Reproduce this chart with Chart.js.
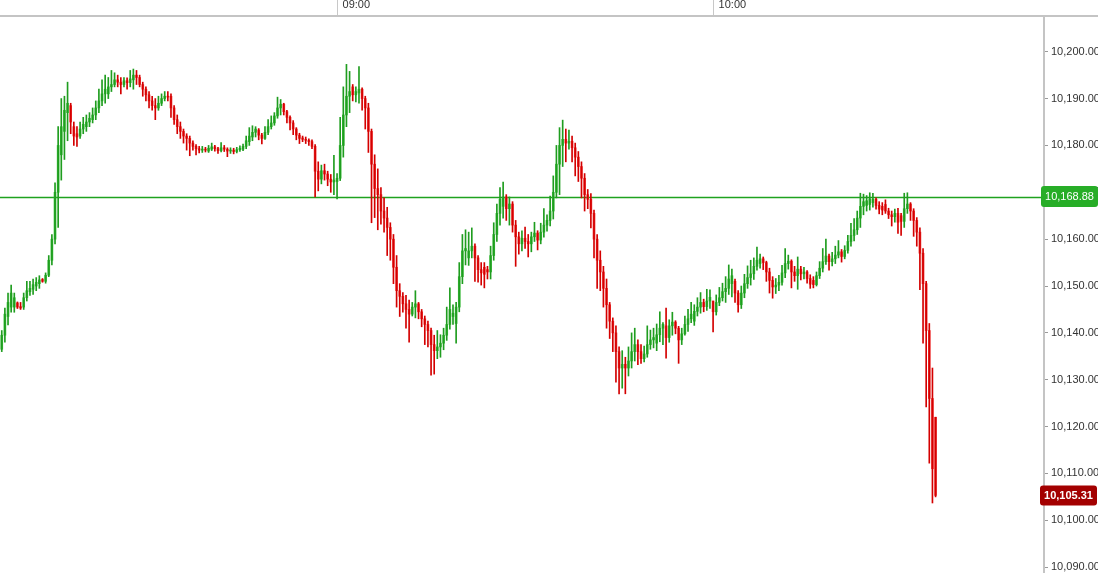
<!DOCTYPE html>
<html>
<head>
<meta charset="utf-8">
<title>Index 30s bars</title>
<script src="https://cdn.jsdelivr.net/npm/chart.js@4/dist/chart.umd.min.js"></script>
<style>
  html, body { margin: 0; padding: 0; background: #fff; }
  #wrap { width: 1098px; height: 573px; }
</style>
</head>
<body>
<div id="wrap"><canvas id="chart" width="1098" height="573"></canvas></div>
<script>
// 30 second bars, first one at 08:06:30 (minutes after midnight)
var startMinute = 486.5;
var barMinutes = 0.5;

var opens = [
  10136.5,10139.5,10143.5,10145.5,10145.5,10146.4,10145.6,10145.5,10147.5,10148.8,
  10149.3,10150.0,10150.5,10151.4,10151.0,10152.3,10155.5,10160.0,10170.0,10178.0,
  10183.0,10187.0,10188.5,10184.0,10182.5,10182.0,10183.5,10184.0,10185.0,10185.5,
  10186.5,10188.0,10189.5,10191.0,10191.0,10192.5,10193.0,10194.0,10193.5,10193.0,
  10193.8,10193.4,10194.0,10195.0,10194.5,10193.0,10192.0,10190.8,10189.5,10188.5,
  10188.0,10189.0,10190.0,10190.5,10190.5,10188.0,10185.5,10184.0,10183.0,10182.0,
  10181.5,10180.5,10179.8,10179.3,10179.0,10179.2,10178.8,10179.2,10179.7,10179.3,
  10178.9,10179.5,10179.2,10178.8,10179.0,10178.7,10179.1,10179.2,10179.8,10180.8,
  10181.8,10182.8,10183.3,10182.2,10181.5,10182.8,10184.0,10184.8,10186.3,10188.0,
  10188.8,10187.2,10186.0,10184.8,10183.5,10182.2,10181.6,10181.3,10181.1,10180.8,
  10179.8,10174.5,10172.8,10174.6,10173.9,10172.8,10172.2,10172.3,10173.0,10180.0,
  10186.5,10190.5,10192.5,10190.8,10191.2,10192.0,10190.0,10188.0,10183.0,10176.0,
  10170.8,10169.5,10166.0,10164.5,10162.5,10160.0,10154.0,10149.0,10147.8,10146.2,
  10145.0,10144.0,10145.5,10146.2,10144.5,10143.0,10141.8,10140.5,10137.5,10136.2,
  10137.0,10137.8,10139.5,10141.8,10143.5,10142.0,10145.5,10152.0,10157.5,10156.0,
  10157.5,10158.5,10156.0,10153.5,10154.0,10153.5,10153.0,10156.5,10161.0,10165.5,
  10167.0,10169.0,10166.5,10167.5,10163.0,10160.5,10159.0,10160.2,10159.5,10159.0,
  10160.5,10161.3,10159.8,10161.5,10163.0,10164.0,10166.0,10170.0,10176.0,10180.0,
  10181.3,10180.5,10180.9,10179.5,10177.5,10175.5,10173.0,10169.5,10168.5,10165.5,
  10160.0,10155.5,10153.0,10149.5,10146.0,10142.5,10140.0,10136.0,10132.5,10133.3,
  10132.5,10134.0,10136.0,10137.5,10136.0,10134.5,10135.5,10137.5,10138.5,10137.8,
  10139.6,10141.0,10141.5,10139.0,10141.5,10142.3,10141.0,10138.5,10139.8,10141.8,
  10143.0,10142.5,10144.6,10145.5,10146.5,10145.6,10146.8,10146.8,10144.5,10146.5,
  10147.5,10148.8,10149.5,10150.5,10151.0,10148.5,10146.0,10148.5,10150.5,10151.8,
  10152.6,10154.2,10154.8,10155.8,10155.0,10153.0,10151.2,10149.8,10150.2,10150.8,
  10152.8,10154.8,10155.3,10153.0,10152.2,10153.6,10152.6,10153.0,10151.6,10151.2,
  10150.3,10152.2,10153.8,10155.2,10156.4,10155.2,10155.8,10156.6,10157.3,10156.3,
  10157.6,10159.5,10160.8,10162.0,10164.5,10167.0,10167.2,10167.4,10167.8,10168.5,
  10167.2,10167.0,10167.4,10166.0,10165.2,10164.8,10165.5,10165.0,10163.8,10166.5,
  10167.5,10166.0,10164.0,10161.5,10157.0,10150.5,10140.5,10126.0,10122.0
];

var highs = [
  10140.5,10145.3,10148.5,10150.2,10148.5,10146.6,10146.5,10148.5,10151.0,10151.0,
  10151.5,10151.8,10152.2,10151.6,10152.8,10156.5,10161.0,10172.0,10184.0,10190.0,
  10190.5,10193.5,10189.0,10185.0,10184.0,10185.0,10186.0,10186.5,10187.0,10188.0,
  10189.5,10192.0,10194.0,10195.0,10194.5,10196.0,10195.5,10195.0,10194.5,10194.5,
  10194.4,10196.0,10196.3,10196.0,10195.0,10193.5,10192.5,10191.5,10190.5,10190.0,
  10190.5,10191.0,10191.5,10191.5,10191.0,10188.5,10186.5,10185.0,10183.5,10182.5,
  10182.0,10181.0,10180.2,10179.8,10179.8,10179.6,10180.0,10180.5,10180.0,10179.6,
  10180.6,10180.0,10179.5,10179.5,10179.4,10179.6,10179.9,10180.3,10182.0,10183.8,
  10184.2,10184.0,10183.6,10182.6,10184.0,10185.5,10186.3,10187.0,10190.3,10189.8,
  10189.0,10187.5,10186.3,10185.3,10183.8,10182.6,10182.0,10181.8,10181.4,10181.2,
  10180.2,10176.5,10175.8,10176.0,10174.5,10173.8,10177.9,10174.0,10186.0,10192.5,
  10197.3,10195.8,10193.0,10192.5,10196.8,10192.3,10190.5,10189.0,10183.5,10178.0,
  10175.0,10171.0,10168.8,10166.8,10163.5,10161.0,10156.5,10150.5,10148.6,10148.0,
  10147.0,10146.5,10149.0,10146.5,10145.0,10143.6,10142.5,10141.0,10139.5,10140.5,
  10139.6,10141.0,10145.5,10149.6,10146.0,10146.5,10155.0,10161.0,10162.0,10161.5,
  10162.4,10159.0,10156.5,10155.0,10155.0,10154.2,10158.5,10163.5,10167.5,10171.0,
  10172.2,10169.5,10169.0,10168.0,10164.0,10161.5,10161.8,10162.6,10161.0,10161.5,
  10163.6,10161.8,10163.4,10166.5,10165.2,10169.2,10173.5,10180.0,10183.8,10185.4,
  10183.5,10183.3,10182.0,10180.5,10178.7,10176.5,10174.0,10170.6,10169.7,10166.2,
  10161.0,10157.5,10154.2,10151.5,10146.5,10143.2,10141.5,10137.0,10136.2,10134.8,
  10137.0,10140.0,10141.0,10138.5,10137.5,10137.2,10141.5,10140.6,10141.0,10141.9,
  10144.5,10142.2,10145.3,10142.8,10144.4,10142.6,10141.4,10141.0,10143.6,10145.0,
  10146.5,10146.0,10147.5,10148.6,10147.2,10149.3,10149.2,10146.8,10148.1,10149.7,
  10150.6,10152.0,10154.5,10153.6,10151.5,10149.0,10150.0,10152.5,10154.3,10155.5,
  10156.0,10158.3,10156.8,10156.2,10155.3,10153.8,10152.0,10151.6,10152.3,10154.4,
  10158.0,10156.6,10155.6,10154.2,10156.2,10154.2,10154.0,10153.3,10152.4,10152.0,
  10153.0,10155.2,10158.0,10160.0,10156.8,10157.2,10158.5,10159.7,10157.8,10158.6,
  10160.8,10163.4,10164.4,10166.0,10169.8,10169.6,10169.3,10169.9,10169.8,10168.8,
  10168.0,10167.8,10168.4,10166.6,10166.0,10166.4,10166.6,10165.5,10169.8,10169.9,
  10167.8,10166.5,10164.6,10162.4,10158.0,10151.0,10142.0,10132.5,10122.0
];

var lows = [
  10136.0,10138.0,10141.7,10144.4,10144.4,10145.2,10145.0,10145.0,10146.8,10148.0,
  10148.2,10149.0,10149.5,10150.8,10150.6,10152.0,10154.5,10159.0,10162.5,10172.6,
  10177.0,10181.0,10182.5,10180.0,10179.8,10181.5,10182.5,10183.0,10184.0,10184.8,
  10185.5,10187.0,10188.5,10189.0,10190.0,10191.5,10192.5,10192.5,10191.0,10192.5,
  10192.0,10192.5,10192.0,10193.0,10192.5,10190.5,10189.5,10188.0,10187.5,10185.5,
  10187.5,10188.5,10189.5,10189.5,10186.0,10184.5,10182.5,10181.5,10180.5,10179.0,
  10177.8,10179.0,10178.0,10178.4,10178.5,10178.6,10178.5,10178.9,10178.8,10178.3,
  10178.6,10178.7,10177.6,10178.3,10178.2,10178.4,10178.7,10178.9,10179.3,10180.0,
  10181.0,10181.8,10181.2,10180.3,10181.3,10182.3,10183.5,10184.3,10185.8,10186.5,
  10186.5,10184.8,10183.3,10182.3,10181.2,10180.4,10180.8,10180.4,10180.0,10179.3,
  10169.0,10170.3,10171.8,10172.6,10171.4,10170.0,10169.5,10168.6,10172.5,10177.5,
  10184.0,10187.0,10189.5,10189.3,10189.0,10187.5,10183.5,10178.5,10163.5,10164.6,
  10162.0,10163.2,10161.5,10156.5,10155.5,10150.5,10145.5,10143.5,10144.4,10141.0,
  10138.0,10143.6,10143.2,10143.0,10141.3,10137.5,10137.0,10131.0,10131.2,10134.5,
  10134.8,10136.4,10138.4,10140.8,10141.8,10137.8,10144.5,10150.5,10154.5,10154.4,
  10156.0,10151.0,10150.8,10150.2,10149.6,10151.5,10151.5,10155.5,10159.5,10163.0,
  10164.5,10164.0,10163.0,10161.5,10154.2,10156.8,10157.5,10158.0,10156.2,10157.3,
  10159.5,10157.7,10159.0,10160.4,10161.7,10162.8,10164.3,10168.8,10169.5,10175.5,
  10176.5,10179.2,10176.5,10173.5,10172.3,10168.8,10166.0,10166.5,10162.4,10156.0,
  10149.5,10149.0,10145.5,10141.0,10138.8,10136.0,10129.5,10127.0,10128.2,10127.0,
  10130.8,10132.5,10134.0,10133.2,10133.5,10133.8,10134.8,10136.5,10136.8,10136.2,
  10138.1,10137.5,10134.6,10138.0,10139.5,10139.8,10133.5,10137.5,10139.5,10140.3,
  10142.2,10141.6,10143.6,10144.2,10144.5,10144.8,10145.2,10140.2,10143.8,10145.8,
  10146.8,10146.5,10148.2,10147.7,10146.5,10144.4,10145.2,10147.5,10149.5,10150.2,
  10151.4,10153.4,10153.8,10153.5,10151.0,10148.5,10147.4,10148.4,10149.0,10150.2,
  10151.8,10153.6,10149.6,10151.0,10149.3,10151.3,10151.5,10150.6,10149.5,10149.6,
  10150.0,10151.6,10153.0,10154.6,10153.4,10154.3,10154.8,10156.0,10155.1,10155.8,
  10157.0,10158.5,10159.6,10161.0,10162.5,10165.2,10166.0,10166.2,10166.8,10166.4,
  10165.4,10165.2,10165.5,10164.4,10162.8,10163.6,10161.2,10160.8,10162.5,10165.5,
  10164.0,10160.6,10158.5,10149.2,10137.8,10124.2,10112.2,10103.7,10105.0
];

var closes = [
  10139.5,10144.0,10146.5,10148.5,10147.5,10145.5,10145.3,10147.5,10149.0,10149.5,
  10150.3,10150.8,10151.3,10151.0,10152.3,10155.5,10160.0,10170.0,10180.0,10184.0,
  10187.5,10189.0,10185.0,10182.0,10181.8,10183.5,10184.5,10185.0,10185.8,10186.5,
  10188.0,10189.5,10191.0,10192.0,10192.5,10193.0,10194.0,10193.5,10193.0,10193.8,
  10193.4,10194.2,10195.0,10194.5,10193.0,10192.0,10190.8,10189.5,10188.5,10188.0,
  10189.0,10190.0,10190.5,10190.3,10188.0,10185.5,10184.0,10183.0,10182.0,10181.5,
  10180.5,10179.8,10179.3,10179.0,10179.2,10179.0,10179.4,10179.7,10179.3,10178.9,
  10179.5,10179.2,10178.8,10179.0,10178.7,10179.1,10179.4,10179.8,10181.0,10182.0,
  10182.8,10183.5,10182.2,10181.5,10182.8,10184.0,10184.8,10186.3,10188.0,10188.8,
  10187.2,10186.0,10184.8,10183.5,10182.2,10181.5,10181.3,10181.1,10180.8,10179.8,
  10174.5,10172.8,10174.6,10173.9,10172.8,10172.2,10172.6,10173.0,10180.0,10186.5,
  10190.5,10191.5,10190.8,10191.5,10192.0,10190.0,10188.0,10183.0,10176.0,10170.8,
  10169.5,10166.0,10164.5,10162.5,10160.0,10154.0,10149.0,10147.8,10146.2,10145.0,
  10144.0,10145.5,10146.2,10144.5,10143.0,10141.8,10140.5,10137.5,10136.2,10137.0,
  10137.8,10139.5,10141.8,10145.0,10144.2,10145.5,10152.0,10157.5,10158.0,10157.5,
  10158.5,10156.0,10153.5,10152.8,10152.5,10153.0,10156.5,10161.0,10165.5,10168.5,
  10169.0,10166.5,10167.5,10163.0,10160.5,10159.0,10160.2,10159.5,10159.0,10160.5,
  10161.3,10159.8,10161.5,10163.0,10164.0,10166.0,10170.0,10176.0,10180.0,10181.3,
  10180.5,10180.9,10179.5,10177.5,10175.5,10173.0,10169.5,10168.5,10165.5,10160.0,
  10155.5,10153.0,10149.5,10146.0,10142.5,10140.0,10136.0,10132.5,10133.3,10132.5,
  10134.0,10136.0,10137.5,10136.0,10134.5,10135.5,10137.5,10138.5,10139.0,10139.6,
  10141.0,10141.8,10139.0,10141.5,10142.3,10141.0,10138.5,10139.8,10141.8,10143.0,
  10144.0,10144.6,10145.5,10146.5,10145.6,10146.8,10147.6,10144.5,10146.5,10147.5,
  10148.8,10149.5,10151.5,10152.2,10148.5,10146.0,10148.5,10150.5,10151.8,10152.6,
  10154.2,10155.5,10155.8,10155.0,10153.0,10151.2,10149.8,10150.2,10150.8,10152.8,
  10154.8,10155.3,10153.0,10152.2,10153.6,10152.6,10153.0,10151.6,10150.4,10150.3,
  10152.2,10153.8,10155.2,10156.4,10155.2,10155.8,10156.6,10157.3,10156.3,10157.6,
  10159.5,10160.8,10162.0,10164.5,10167.0,10168.0,10168.2,10168.6,10168.5,10167.2,
  10166.4,10166.2,10166.0,10165.2,10164.8,10165.5,10163.6,10163.8,10166.5,10167.5,
  10166.0,10164.0,10161.5,10157.0,10150.5,10140.5,10126.0,10111.0,10105.31
];

// reference level and last traded price shown on the price axis
var refPrice = 10168.88;
var lastPrice = closes[closes.length - 1];

// axis ranges and ticks
var timeMin = 486.22;
var timeMax = 652.8;
var timeTicks = [540, 600];
var priceMin = 10088.76;
var priceMax = 10207.62;
var priceStep = 10;

var times = opens.map(function(o, i){ return startMinute + i * barMinutes; });

var upBody = "#3cbc3c", upWick = "#1f9d1f";
var downBody = "#f23a3a", downWick = "#d40000";
var refColor = "#1fa21f";

function isUp(i){ return closes[i] >= opens[i]; }

function fmtPrice(v){
  return v.toLocaleString("en-US", {minimumFractionDigits: 2, maximumFractionDigits: 2});
}

function fmtTime(m){
  var h = Math.floor(m / 60), mm = Math.round(m % 60);
  return (h < 10 ? "0" : "") + h + ":" + (mm < 10 ? "0" : "") + mm;
}

//draws the rounded price tags on the right axis
function drawTag(ctx, x, yMid, w, h, fill, text, bold){
  ctx.fillStyle = fill;
  ctx.beginPath();
  if (ctx.roundRect) ctx.roundRect(x, yMid - h / 2, w, h, 3);
  else ctx.rect(x, yMid - h / 2, w, h);
  ctx.fill();
  ctx.fillStyle = "#ffffff";
  ctx.font = (bold ? "bold " : "") + "11px 'Liberation Sans', Arial, sans-serif";
  ctx.textAlign = "center";
  ctx.textBaseline = "middle";
  ctx.fillText(text, x + w / 2, yMid + 0.5);
}

var decorations = {
  id: "decorations",
  afterDraw: function(chart){
    var ctx = chart.ctx, area = chart.chartArea, y = chart.scales.y;
    ctx.save();
    //top rule runs on over the price column
    ctx.strokeStyle = "#c4c4c4";
    ctx.lineWidth = 2;
    ctx.beginPath();
    ctx.moveTo(area.right, area.top);
    ctx.lineTo(chart.width, area.top);
    ctx.stroke();
    drawTag(ctx, area.right - 3, y.getPixelForValue(refPrice) - 1, 57, 21, "#27ad27", fmtPrice(refPrice), false);
    drawTag(ctx, area.right - 4, y.getPixelForValue(lastPrice), 57, 20, "#a30000", fmtPrice(lastPrice), true);
    ctx.restore();
  }
};

Chart.defaults.font.family = "'Liberation Sans', Arial, sans-serif";
Chart.defaults.font.size = 11;
Chart.defaults.color = "#333333";

new Chart(document.getElementById("chart"), {
  type: "bar",
  data: {
    datasets: [
      {
        //high-low wick
        data: times.map(function(t, i){
          return {x: t, y: [Math.min(lows[i], opens[i], closes[i]), Math.max(highs[i], opens[i], closes[i])]};
        }),
        backgroundColor: times.map(function(t, i){ return isUp(i) ? upWick : downWick; }),
        barThickness: 1,
        grouped: false,
        order: 0
      },
      {
        //open-close body
        data: times.map(function(t, i){ return {x: t, y: [opens[i], closes[i]]}; }),
        backgroundColor: times.map(function(t, i){ return isUp(i) ? upBody : downBody; }),
        barThickness: 2,
        minBarLength: 1,
        grouped: false,
        order: 1
      },
      {
        //reference level line
        type: "line",
        data: [{x: timeMin, y: refPrice}, {x: timeMax, y: refPrice}],
        borderColor: refColor,
        backgroundColor: refColor,
        borderWidth: 1.4,
        pointRadius: 0,
        fill: false,
        order: 2
      }
    ]
  },
  options: {
    responsive: false,
    animation: false,
    events: [],
    layout: { padding: 0 },
    plugins: {
      legend: { display: false },
      tooltip: { enabled: false }
    },
    scales: {
      x: {
        type: "linear",
        position: "top",
        min: timeMin,
        max: timeMax,
        offset: false,
        afterBuildTicks: function(axis){
          axis.ticks = timeTicks.map(function(v){ return {value: v}; });
        },
        afterFit: function(axis){
          axis.height = 16;
          axis.paddingLeft = 0;
          axis.paddingRight = 0;
        },
        grid: {
          drawOnChartArea: false,
          tickLength: 16,
          color: "#c8c8c8",
          offset: false
        },
        border: { color: "#c4c4c4", width: 2 },
        ticks: {
          align: "start",
          labelOffset: 5.5,
          padding: -11.5,
          maxRotation: 0,
          autoSkip: false,
          color: "#333333",
          callback: function(v){ return fmtTime(v); }
        }
      },
      y: {
        type: "linear",
        position: "right",
        min: priceMin,
        max: priceMax,
        afterFit: function(axis){
          axis.width = 54;
          axis.paddingTop = 0;
          axis.paddingBottom = 0;
        },
        grid: {
          drawOnChartArea: false,
          tickLength: 4,
          color: "#9a9a9a"
        },
        border: { color: "#c4c4c4", width: 2 },
        ticks: {
          stepSize: priceStep,
          includeBounds: false,
          padding: 3,
          color: "#333333",
          callback: function(v){ return fmtPrice(v); }
        }
      }
    }
  },
  plugins: [decorations]
});
</script>
</body>
</html>
